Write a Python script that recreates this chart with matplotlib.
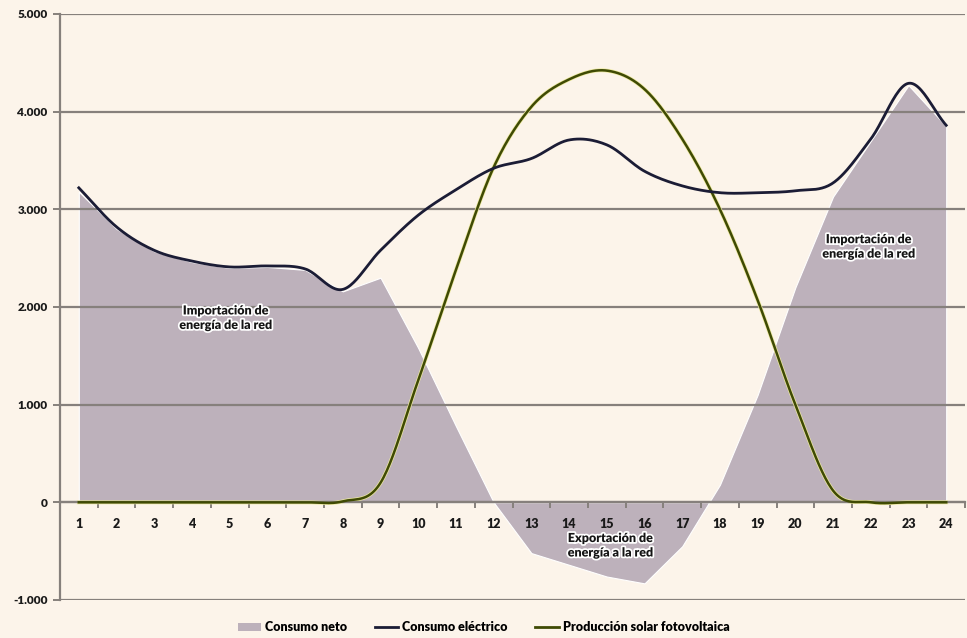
import numpy as np
import matplotlib.pyplot as plt
from matplotlib.ticker import FuncFormatter, FixedLocator
from matplotlib.patches import Patch
from matplotlib.lines import Line2D
import matplotlib.patheffects as pe

plt.rcParams['font.family'] = ['Lato', 'DejaVu Sans']
plt.rcParams['font.weight'] = 'heavy'

# Hourly profile (kW)
horas = np.arange(1, 25)
consumo_electrico = [3220, 2820, 2580, 2470, 2410, 2420, 2390, 2180, 2580, 2940,
                     3200, 3420, 3520, 3710, 3660, 3390, 3240, 3170, 3170, 3190,
                     3270, 3720, 4290, 3860]
produccion_solar = [0, 0, 0, 0, 0, 0, 0, 10, 200, 1250,
                    2380, 3430, 4050, 4330, 4420, 4230, 3720, 3000, 2070, 1000,
                    120, 0, 0, 0]
consumo_neto = [3180, 2800, 2570, 2460, 2400, 2410, 2380, 2160, 2300, 1580,
                780, 0, -520, -640, -760, -830, -450, 180, 1100, 2200,
                3130, 3700, 4270, 3850]

bg = '#fcf4ea'
col_neto = '#bdb1bb'
col_cons = '#1b1c35'
col_solar = '#3f4a04'
col_grid = '#86807c'


def smooth(x, y, n=24):
    # Catmull-Rom curve through the hourly points
    x = np.asarray(x, float)
    y = np.asarray(y, float)
    px = np.concatenate([[2 * x[0] - x[1]], x, [2 * x[-1] - x[-2]]])
    py = np.concatenate([[2 * y[0] - y[1]], y, [2 * y[-1] - y[-2]]])
    xs, ys = [], []
    t = np.linspace(0, 1, n, endpoint=False)
    for i in range(1, len(px) - 2):
        for p, out in ((px, xs), (py, ys)):
            p0, p1, p2, p3 = p[i - 1], p[i], p[i + 1], p[i + 2]
            out.append(0.5 * (2 * p1 + (-p0 + p2) * t
                              + (2 * p0 - 5 * p1 + 4 * p2 - p3) * t ** 2
                              + (-p0 + 3 * p1 - 3 * p2 + p3) * t ** 3))
    xs.append([x[-1]])
    ys.append([y[-1]])
    return np.concatenate(xs), np.concatenate(ys)


fig = plt.figure(figsize=(9.67, 6.38), dpi=100, facecolor=bg)
ax = fig.add_axes([0.062, 0.0596, 0.936, 0.9185], facecolor=bg)

ax.fill_between(horas, consumo_neto, 0, color=col_neto, edgecolor='white',
                linewidth=0.8, zorder=1)

for v in range(-1000, 5001, 1000):
    ax.axhline(v, color=col_grid, linewidth=1.6, zorder=1.5)

xs, ys = smooth(horas, produccion_solar)
ax.plot(xs, ys, color='#eeeaa0', linewidth=2.8, zorder=2.5)
ax.plot(xs, ys, color=col_solar, linewidth=1.8, zorder=2.6)
xc, yc = smooth(horas, consumo_electrico)
ax.plot(xc, yc, color=col_cons, linewidth=2.0, zorder=3)

ax.set_xlim(0.5, 24.5)
ax.set_ylim(-1000, 5000)

for s in ('top', 'right'):
    ax.spines[s].set_visible(False)
ax.spines['left'].set_color(col_grid)
ax.spines['left'].set_linewidth(1.6)
ax.spines['bottom'].set_position(('data', 0))
ax.spines['bottom'].set_color(col_grid)
ax.spines['bottom'].set_linewidth(1.6)

ax.set_yticks(range(-1000, 5001, 1000))
ax.yaxis.set_major_formatter(FuncFormatter(lambda v, p: f'{int(v):,}'.replace(',', '.')))
ax.tick_params(axis='y', length=5, width=1.4, color=col_grid, labelsize=8.5,
               labelcolor='#1a1a1a', pad=4)

ax.xaxis.set_major_locator(FixedLocator(np.arange(0.5, 25, 1)))
ax.xaxis.set_minor_locator(FixedLocator(horas))
ax.set_xticklabels([])
ax.set_xticklabels([str(h) for h in horas], minor=True)
ax.tick_params(axis='x', which='major', length=4, width=1.4, color=col_grid)
ax.tick_params(axis='x', which='minor', length=0, labelsize=9, pad=11,
               labelcolor='#1a1a1a')

halo = [pe.withStroke(linewidth=2.5, foreground='white')]
txt_kw = dict(ha='center', va='center', fontsize=9, color='#151515',
              linespacing=1.25, path_effects=halo, zorder=5)
ax.text(4.9, 1890, 'Importación de\nenergía de la red', **txt_kw)
ax.text(15.1, -440, 'Exportación de\nenergía a la red', **txt_kw)
ax.text(21.95, 2620, 'Importación de\nenergía de la red', **txt_kw)

handles = [Patch(facecolor=col_neto, edgecolor='none'),
           Line2D([], [], color=col_cons, linewidth=2),
           Line2D([], [], color=col_solar, linewidth=2)]
labels = ['Consumo neto', 'Consumo eléctrico', 'Producción solar fotovoltaica']
fig.legend(handles, labels, loc='center', bbox_to_anchor=(0.5, 0.017), ncol=3,
           frameon=False, fontsize=9, handlelength=1.9, handletextpad=0.3,
           columnspacing=2.2, handleheight=0.6)

fig.savefig('out.png', dpi=100, facecolor=bg)
